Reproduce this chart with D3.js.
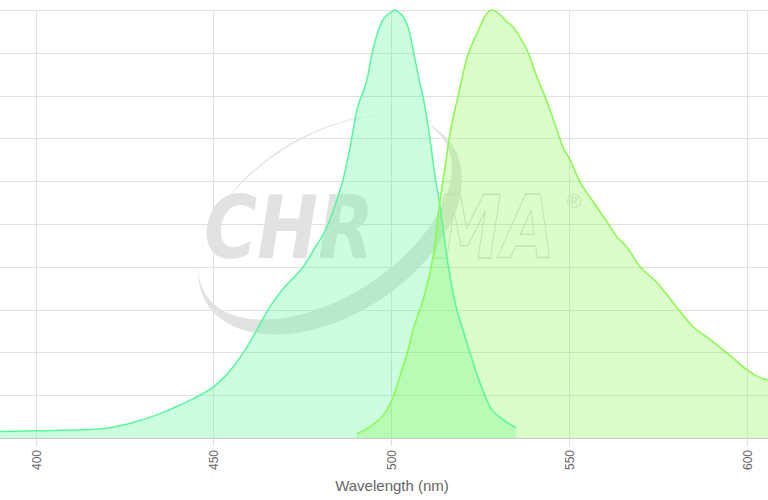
<!DOCTYPE html>
<html>
<head>
<meta charset="utf-8">
<script src="https://cdn.jsdelivr.net/npm/d3@7"></script>
<style>
  html, body { margin: 0; padding: 0; background: #fff; }
  svg { display: block; font-family: "Liberation Sans", Arial, sans-serif; }
</style>
</head>
<body>
<div id="chart"></div>
<script>
// Spectra: [wavelength nm, relative intensity %]
var excitation = [
  [388, 1.5], [390, 1.5], [400, 1.7], [413.3, 1.9], [420.9, 2.4], [427.4, 3.6],
  [435.0, 5.7], [440.6, 7.7], [446.2, 10.0], [449.9, 11.9], [455.5, 16.6],
  [458.9, 20.6], [462.2, 25.3], [465.9, 30.7], [469.3, 34.6], [472.4, 37.4],
  [475.2, 40.0], [478.5, 44.4], [481.9, 49.3], [484.7, 55.7], [486.4, 60.3],
  [488.4, 68.0], [490.3, 76.6], [493.1, 83.6], [494.8, 90.7], [497.6, 97.7],
  [500.2, 99.6], [501.0, 100], [501.9, 99.6], [504.7, 96.0], [506.1, 90.7],
  [507.8, 83.6], [508.9, 79.7], [510.9, 69.6], [512.3, 61.0], [513.4, 55.7],
  [515.6, 42.3], [518.4, 29.9], [520.1, 25.3], [522.1, 19.9], [524.9, 12.9],
  [527.7, 7.3], [531.4, 4.3], [535.0, 2.4]
];
var emission = [
  [490.3, 1.0], [494.8, 3.1], [498.8, 6.6], [500.5, 9.6], [503.0, 16.0],
  [504.7, 20.6], [506.1, 25.3], [508.9, 32.3], [511.7, 42.3], [513.7, 55.7],
  [515.1, 63.4], [516.5, 71.3], [518.7, 79.7], [521.3, 89.0], [524.1, 94.6],
  [526.9, 99.3], [528.3, 100], [530.0, 99.3], [532.5, 97.2], [534.2, 96.0],
  [536.1, 93.7], [538.1, 90.7], [540.9, 84.4], [543.2, 79.7], [544.6, 76.6],
  [546.5, 72.0], [548.2, 68.0], [550.2, 65.0], [553.0, 59.8], [555.8, 56.3],
  [560.6, 50.5], [563.4, 47.0], [566.2, 44.6], [569.9, 40.0], [574.7, 36.3],
  [579.2, 31.6], [584.8, 26.0], [589.6, 23.0], [594.3, 19.9], [600.0, 15.9],
  [603.6, 14.1], [606.0, 13.5]
];
var xTicks = [400, 450, 500, 550, 600];
var yTicks = [0, 10, 20, 30, 40, 50, 60, 70, 80, 90, 100];
var xTitle = 'Wavelength (nm)';

var width = 768, height = 500;
var margin = { top: 10, right: 0, bottom: 62, left: 0 };

var x = d3.scaleLinear().domain([390, 605.85]).range([margin.left, width - margin.right]);
var y = d3.scaleLinear().domain([0, 100]).range([height - margin.bottom, margin.top]);

var svg = d3.select('#chart').append('svg')
  .attr('width', width)
  .attr('height', height);

svg.append('defs').append('clipPath').attr('id', 'plot-clip')
  .append('rect')
  .attr('x', margin.left).attr('y', 0)
  .attr('width', width - margin.left - margin.right)
  .attr('height', height - margin.bottom);

// Grid
var grid = svg.append('g').attr('class', 'grid');
grid.selectAll('.hline')
  .data(yTicks)
  .enter().append('line')
  .attr('x1', 0).attr('x2', width)
  .attr('y1', function (d) { return Math.round(y(d)) + 0.5; })
  .attr('y2', function (d) { return Math.round(y(d)) + 0.5; })
  .attr('stroke', function (d) { return d === 0 ? '#c8c8c8' : '#e0e0e0'; })
  .attr('stroke-width', 1);
grid.selectAll('.vline')
  .data(xTicks)
  .enter().append('line')
  .attr('x1', function (d) { return Math.round(x(d)) + 0.5; })
  .attr('x2', function (d) { return Math.round(x(d)) + 0.5; })
  .attr('y1', margin.top)
  .attr('y2', height - margin.bottom + 8)
  .attr('stroke', '#e0e0e0')
  .attr('stroke-width', 1);

// Watermark logo
var logo = svg.append('g').attr('class', 'watermark');
var rot = -33 * Math.PI / 180;
function ellipsePath(cx, cy, rx, ry) {
  var pts = d3.range(0, 361, 3).map(function (a) {
    var t = a * Math.PI / 180;
    var px = rx * Math.cos(t), py = ry * Math.sin(t);
    return [cx + px * Math.cos(rot) - py * Math.sin(rot),
            cy + px * Math.sin(rot) + py * Math.cos(rot)];
  });
  return d3.line()(pts) + 'Z';
}
logo.append('path')
  .attr('d', ellipsePath(330, 225, 146, 90) + ellipsePath(325, 217.5, 142, 79.5))
  .attr('fill', '#e2e2e2')
  .attr('fill-rule', 'evenodd');
// letters are drawn narrow and stretched upward so they keep the logo's proportions
logo.append('text')
  .attr('transform', 'translate(204,258) scale(1,1.21)')
  .attr('font-family', '"DejaVu Sans", sans-serif')
  .attr('font-size', 72.6)
  .attr('font-weight', 'bold')
  .attr('font-style', 'italic')
  .attr('fill', '#e2e2e2')
  .text('CHR');
logo.append('text')
  .attr('transform', 'translate(433,258) scale(1,1.27)')
  .attr('font-family', '"DejaVu Sans", sans-serif')
  .attr('font-size', 69)
  .attr('font-weight', 'bold')
  .attr('font-style', 'italic')
  .attr('fill', 'none')
  .attr('stroke', '#dcdcdc')
  .attr('stroke-width', 1.2)
  .attr('vector-effect', 'non-scaling-stroke')
  .text('MA');
logo.append('text')
  .attr('x', 574).attr('y', 208)
  .attr('font-size', 20)
  .attr('text-anchor', 'middle')
  .attr('fill', '#e0e0e0')
  .text('\u00AE');

// Spectra
var area = d3.area()
  .curve(d3.curveMonotoneX)
  .x(function (d) { return x(d[0]); })
  .y0(y(0))
  .y1(function (d) { return y(d[1]); });
var line = d3.line()
  .curve(d3.curveMonotoneX)
  .x(function (d) { return x(d[0]); })
  .y(function (d) { return y(d[1]); });

var series = [
  { data: excitation, color: 'rgb(85,248,155)' },
  { data: emission, color: 'rgb(135,250,75)' }
];
var plot = svg.append('g').attr('clip-path', 'url(#plot-clip)');
series.forEach(function (s) {
  plot.append('path')
    .attr('d', area(s.data))
    .attr('fill', s.color)
    .attr('fill-opacity', 0.3);
});
series.forEach(function (s) {
  plot.append('path')
    .attr('d', line(s.data))
    .attr('fill', 'none')
    .attr('stroke', s.color)
    .attr('stroke-width', 1.5);
});

// X axis labels
var axis = svg.append('g').attr('class', 'x-axis');
axis.selectAll('.tick-label')
  .data(xTicks)
  .enter().append('text')
  .attr('transform', function (d) {
    return 'translate(' + (Math.round(x(d)) + 0.5) + ',' + (height - margin.bottom + 12) + ') rotate(-90)';
  })
  .attr('text-anchor', 'end')
  .attr('dy', '0.35em')
  .attr('font-size', 12)
  .attr('fill', '#666')
  .text(function (d) { return d; });

axis.append('text')
  .attr('x', 392)
  .attr('y', 491)
  .attr('text-anchor', 'middle')
  .attr('font-size', 15)
  .attr('fill', '#666')
  .text(xTitle);
</script>
</body>
</html>
